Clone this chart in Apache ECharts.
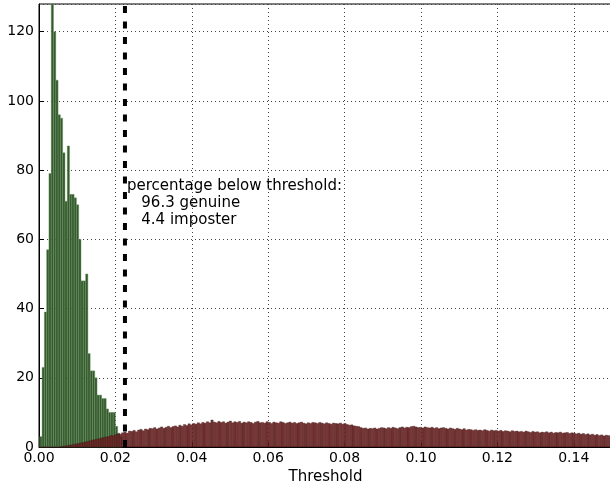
<!DOCTYPE html>
<html>
<head>
<meta charset="utf-8">
<script src="https://cdn.jsdelivr.net/npm/echarts@6/dist/echarts.min.js"></script>
<style>
  html, body { margin: 0; padding: 0; background: #fff; }
  #chart { width: 610px; height: 485px; }
</style>
</head>
<body>
<div id="chart"></div>
<script>
// histogram bins (same width for both classes)
var binWidth = 0.0006;
var genuineStart = 0.0002;
var imposterStart = 0;
var threshold = 0.0225;
var yMax = 128;

// genuine counts
var genuineCounts = [
  3, 23, 39, 57, 79, 135, 120, 106, 96, 95,
  85, 71, 87, 73, 73, 72, 70, 60, 48, 48,
  50, 27, 22, 22, 20, 15, 15, 14, 14, 11,
  10, 10, 10, 6, 4, 3
];

// imposter counts
var imposterCounts = [
  0, 0, 0, 0, 0, 0, 0, 0, 0, 0.1,
  0.2, 0.3, 0.4, 0.5, 0.6, 0.8, 0.9, 1.0, 1.2, 1.3,
  1.5, 1.6, 1.8, 2.0, 2.1, 2.3, 2.4, 2.6, 2.8, 2.9,
  3.0, 3.3, 3.2, 3.6, 3.8, 3.7, 4.1, 4.3, 4.0, 4.6,
  4.5, 4.8, 4.4, 4.9, 5.1, 4.7, 5.2, 5.0, 5.4, 5.3,
  5.6, 5.2, 5.5, 5.8, 5.4, 5.7, 6.0, 5.6, 5.9, 6.1,
  5.8, 6.3, 6.0, 6.5, 6.2, 6.7, 6.4, 6.8, 6.6, 7.0,
  6.7, 7.1, 6.9, 7.3, 7.0, 7.8, 7.2, 7.0, 7.4, 7.1,
  7.3, 6.9, 7.2, 7.5, 7.0, 7.3, 7.1, 7.4, 6.9, 7.2,
  7.0, 7.3, 7.1, 6.8, 7.2, 7.4, 7.0, 7.1, 6.9, 7.3,
  7.1, 6.8, 7.2, 7.0, 6.9, 7.3, 7.1, 6.8, 7.0, 7.2,
  6.9, 7.1, 6.8, 7.0, 7.2, 6.9, 6.7, 7.0, 6.8, 7.1,
  7.0, 6.8, 7.1, 6.9, 6.7, 7.0, 6.8, 6.6, 6.9, 6.8,
  6.7, 6.9, 6.6, 6.8, 6.5, 6.3, 6.4, 6.1, 6.0, 5.9,
  5.6, 5.4, 5.5, 5.2, 5.4, 5.3, 5.5, 5.2, 5.4, 5.6,
  5.5, 5.3, 5.6, 5.4, 5.7, 5.5, 5.3, 5.6, 5.8, 5.5,
  5.7, 5.6, 5.9, 6.0, 5.8, 5.6, 5.7, 5.5, 5.8, 5.6,
  5.5, 5.7, 5.4, 5.6, 5.3, 5.5, 5.6, 5.4, 5.2, 5.5,
  5.3, 5.1, 5.4, 5.2, 5.0, 5.3, 4.9, 5.1, 5.0, 4.8,
  5.0, 4.8, 4.9, 4.7, 5.0, 4.8, 4.6, 4.9, 4.7, 4.8,
  4.6, 4.8, 4.5, 4.7, 4.6, 4.4, 4.7, 4.5, 4.6, 4.4,
  4.5, 4.3, 4.6, 4.4, 4.2, 4.5, 4.3, 4.4, 4.1, 4.3,
  4.2, 4.4, 4.1, 4.3, 4.0, 4.2, 4.1, 4.3, 4.0, 4.1,
  4.2, 3.9, 4.1, 4.0, 3.8, 4.0, 3.7, 3.9, 3.6, 3.8,
  3.5, 3.7, 3.4, 3.6, 3.3, 3.5, 3.2, 3.4, 3.3, 3.1
];

var xTicks = [0, 0.02, 0.04, 0.06, 0.08, 0.10, 0.12, 0.14];
var noteLines = ['percentage below threshold:', '   96.3 genuine', '   4.4 imposter'];

function toBins(counts, start) {
  return counts.map(function (c, i) {
    return [start + i * binWidth, start + (i + 1) * binWidth, c];
  });
}

function renderBar(params, api) {
  var top = api.coord([api.value(0), api.value(2)]);
  var bottom = api.coord([api.value(1), 0]);
  var rect = echarts.graphic.clipRectByRect(
    { x: top[0], y: top[1], width: bottom[0] - top[0], height: bottom[1] - top[1] },
    { x: params.coordSys.x, y: params.coordSys.y, width: params.coordSys.width, height: params.coordSys.height }
  );
  if (!rect) return;
  return { type: 'rect', shape: rect, style: api.style() };
}

var font = 'DejaVu Sans';
var chart = echarts.init(document.getElementById('chart'));

var option = {
  animation: false,
  grid: {
    left: 39, top: 4, width: 573, height: 443,
    containLabel: false, outerBoundsMode: 'none',
    show: true, borderColor: '#000', borderWidth: 1
  },
  xAxis: {
    type: 'value', min: 0, max: 0.15, interval: 0.02,
    name: 'Threshold', nameLocation: 'middle', nameGap: 22,
    nameTextStyle: { color: '#000', fontSize: 15, fontFamily: font },
    axisLine: { lineStyle: { color: '#000' } },
    axisTick: { inside: true, length: 5, lineStyle: { color: '#000' } },
    axisLabel: {
      color: '#000', fontSize: 14, fontFamily: font, margin: 4, showMaxLabel: false,
      formatter: function (v) { return xTicks.indexOf(+v.toFixed(2)) >= 0 ? v.toFixed(2) : ''; }
    },
    splitLine: { show: true, lineStyle: { color: '#444', type: [1, 3] } }
  },
  yAxis: {
    type: 'value', min: 0, max: yMax, interval: 20,
    axisLine: { show: true, lineStyle: { color: '#000' } },
    axisTick: { show: true, inside: true, length: 5, lineStyle: { color: '#000' } },
    axisLabel: { color: '#000', fontSize: 14, fontFamily: font, margin: 5, showMaxLabel: false },
    splitLine: { show: true, lineStyle: { color: '#444', type: [1, 3] } }
  },
  series: [
    {
      name: 'genuine', type: 'custom', renderItem: renderBar,
      encode: { x: [0, 1], y: 2 },
      data: toBins(genuineCounts, genuineStart),
      itemStyle: { color: '#355a2e', borderColor: 'rgba(110,150,100,0.8)', borderWidth: 0.5 }
    },
    {
      name: 'imposter', type: 'custom', renderItem: renderBar,
      encode: { x: [0, 1], y: 2 },
      data: toBins(imposterCounts, imposterStart),
      itemStyle: { color: 'rgba(112,38,38,0.92)', borderColor: 'rgba(60,20,20,0.7)', borderWidth: 0.5 }
    },
    {
      name: 'threshold', type: 'line', silent: true, symbol: 'none',
      data: [[threshold, 0], [threshold, yMax]],
      lineStyle: { color: '#000', width: 4, type: [7, 8.5] },
      z: 5
    }
  ],
  graphic: [{
    type: 'text', left: 127, top: 178,
    style: {
      text: noteLines.join('\n'), fill: '#000',
      font: '15px "DejaVu Sans"', lineHeight: 16.7
    }
  }]
};

chart.setOption(option);
</script>
</body>
</html>
